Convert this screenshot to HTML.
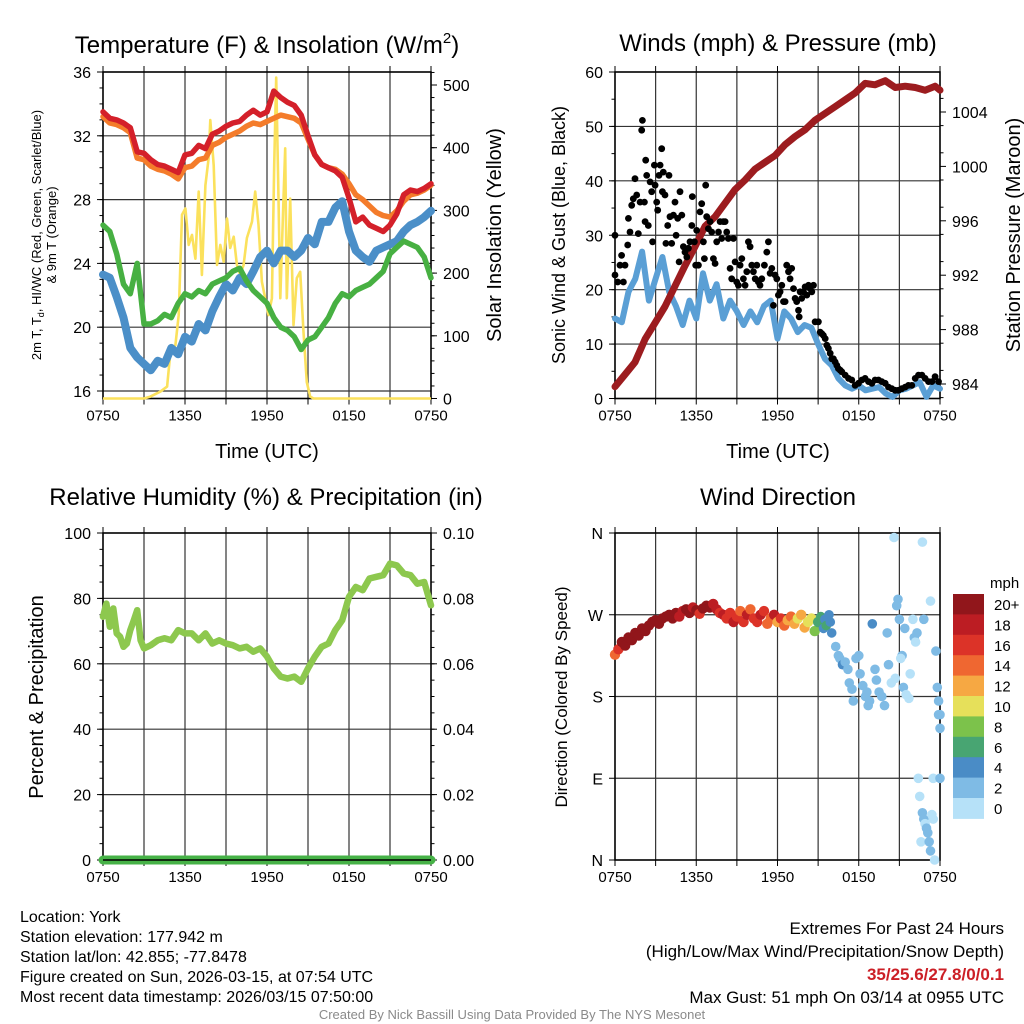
<!DOCTYPE html>
<html><head><meta charset="utf-8"><title>York Mesonet Meteogram</title>
<style>
html,body{margin:0;padding:0;background:#fff;}
svg{display:block;font-family:"Liberation Sans",Arial,sans-serif;}
</style></head>
<body>
<svg id="fig" width="1024" height="1024" viewBox="0 0 1024 1024" xmlns="http://www.w3.org/2000/svg">
<rect x="0" y="0" width="1024" height="1024" fill="#fff"/>
<text x="267" y="53" font-size="24" text-anchor="middle">Temperature (F) &amp; Insolation (W/m<tspan font-size="15" dy="-10">2</tspan><tspan dy="10">)</tspan></text>
<text x="778" y="51" font-size="24" text-anchor="middle">Winds (mph) &amp; Pressure (mb)</text>
<text x="266" y="505" font-size="24" text-anchor="middle">Relative Humidity (%) &amp; Precipitation (in)</text>
<text x="778" y="505" font-size="24" text-anchor="middle">Wind Direction</text>
<text transform="translate(41,235) rotate(-90)" font-size="13" text-anchor="middle">2m T, T<tspan font-size="9" dy="3">d</tspan><tspan dy="-3">, HI/WC (Red, Green, Scarlet/Blue)</tspan></text>
<text transform="translate(56,235) rotate(-90)" font-size="13" text-anchor="middle">&amp; 9m T (Orange)</text>
<text transform="translate(501,235) rotate(-90)" font-size="20" text-anchor="middle">Solar Insolation (Yellow)</text>
<text x="267" y="458" font-size="20" text-anchor="middle">Time (UTC)</text>
<text transform="translate(565,235) rotate(-90)" font-size="18" text-anchor="middle">Sonic Wind &amp; Gust (Blue, Black)</text>
<text transform="translate(1020,235) rotate(-90)" font-size="20" text-anchor="middle">Station Pressure (Maroon)</text>
<text x="778" y="458" font-size="20" text-anchor="middle">Time (UTC)</text>
<text transform="translate(43,697) rotate(-90)" font-size="20" text-anchor="middle">Percent &amp; Precipitation</text>
<text transform="translate(567,697) rotate(-90)" font-size="17" text-anchor="middle">Direction (Colored By Speed)</text>
<g font-size="16">
<text x="20" y="922">Location: York</text>
<text x="20" y="942">Station elevation: 177.942 m</text>
<text x="20" y="962">Station lat/lon: 42.855; -77.8478</text>
<text x="20" y="982">Figure created on Sun, 2026-03-15, at 07:54 UTC</text>
<text x="20" y="1002">Most recent data timestamp: 2026/03/15 07:50:00</text>
</g>
<g font-size="17" text-anchor="end">
<text x="1004" y="934">Extremes For Past 24 Hours</text>
<text x="1004" y="957">(High/Low/Max Wind/Precipitation/Snow Depth)</text>
<text x="1004" y="980" fill="#cc1f26" font-weight="bold">35/25.6/27.8/0/0.1</text>
<text x="1004" y="1003">Max Gust: 51 mph On 03/14 at 0955 UTC</text>
</g>
<text x="512" y="1019" font-size="13" fill="#8a8a8a" text-anchor="middle">Created By Nick Bassill Using Data Provided By The NYS Mesonet</text>
<g id="layer"></g>
</svg>
<script>
var xTickHours = [0, 6, 12, 18, 24];
var xTickLabels = ["0750", "1350", "1950", "0150", "0750"];
var tempTicks = [16, 20, 24, 28, 32, 36];
var solarTicks = [0, 100, 200, 300, 400, 500];
var windTicks = [0, 10, 20, 30, 40, 50, 60];
var presTicks = [984, 988, 992, 996, 1000, 1004];
var rhTicks = [0, 20, 40, 60, 80, 100];
var precipTickLabels = ["0.00", "0.02", "0.04", "0.06", "0.08", "0.10"];
var precipTicks = [0, 0.02, 0.04, 0.06, 0.08, 0.10];
var dirTicks = [0, 90, 180, 270, 360];
var dirTickLabels = ["N", "E", "S", "W", "N"];
var speedBinLabels = ["0", "2", "4", "6", "8", "10", "12", "14", "16", "18", "20+"];
var speedBinColors = ["#b6e1f8", "#7fbbe5", "#4a8cc6", "#48a572", "#7cc24b", "#e6e05a", "#f6a843", "#ef6731", "#dc3328", "#bc1d23", "#91161b"];

var tempT = [33.5,33.1,33.0,32.8,32.5,31.0,30.9,30.5,30.2,30.1,29.9,29.7,30.8,30.9,31.4,31.2,32.1,32.3,32.6,32.8,32.9,33.3,33.6,33.3,33.5,34.8,34.4,34.1,33.9,33.3,32.0,30.8,30.2,30.0,29.8,29.4,28.1,26.6,26.9,26.4,26.2,26.0,26.4,27.1,28.3,28.6,28.5,28.7,29.0];
var temp9m = [33.2,32.8,32.7,32.5,32.2,30.6,30.5,30.1,29.9,29.8,29.6,29.3,30.0,30.1,30.5,30.6,31.4,31.6,31.9,32.1,32.3,32.6,32.8,32.7,32.9,33.1,33.3,33.2,33.1,32.8,31.8,30.8,30.2,30.0,29.9,29.6,29.0,28.3,28.0,27.6,27.2,27.0,26.9,27.3,27.9,28.3,28.4,28.6,28.9];
var dewT = [23.3,23.1,21.9,20.6,18.7,18.1,17.7,17.3,17.9,17.7,18.7,18.3,19.4,19.1,20.2,19.8,21.0,21.9,22.7,22.3,23.1,22.7,23.5,24.4,24.8,24.0,24.8,24.8,24.4,24.8,25.6,25.2,26.6,26.6,27.5,27.9,26.0,24.8,24.4,24.1,24.8,25.0,25.2,25.4,26.0,26.4,26.6,26.9,27.3];
var heatWC = [26.4,26.0,24.6,22.7,22.1,24.0,20.2,20.2,20.4,20.8,20.6,21.5,22.1,21.9,22.3,22.1,22.7,22.9,23.1,23.5,23.7,22.9,22.3,21.9,21.5,20.6,20.0,19.8,19.4,18.6,19.2,19.4,20.0,20.6,21.5,22.1,21.9,22.3,22.5,22.7,23.1,23.5,24.6,25.0,25.4,25.2,25.0,24.4,23.1];

var solarHours = [0,3.0,3.47,4.2,4.69,4.93,5.3,5.54,5.78,6.03,6.27,6.51,6.76,7.0,7.24,7.49,7.73,7.85,8.1,8.34,8.58,8.83,9.07,9.31,9.56,9.8,10.04,10.29,10.53,10.9,11.14,11.38,11.63,11.87,12.11,12.36,12.53,12.67,12.84,12.97,13.21,13.33,13.45,13.7,13.94,14.18,14.43,14.67,14.91,15.16,15.4,24];
var solar = [0,0,3,11,19,74,85,133,293,303,245,261,223,330,197,340,383,444,372,213,245,218,287,240,258,213,197,213,256,282,330,277,186,160,133,160,372,512,319,160,319,399,160,319,117,192,202,106,26,3,0,0];

var windSpd = [14.7,14,19.6,22,27,18,22,26,19.6,17,13.5,18,14.7,23,18,21,14.7,18,16,13.5,16,14,17,18,11,16,14.7,12.2,13.5,13,10,7.3,6.1,3.7,2.4,1.8,2.4,1.5,1.8,2.1,0.9,0.3,1.5,1.8,2.4,3,0.3,2.4,1.8];

var gustHours = [0,0,0.2,0.37,0.49,0.62,0.74,0.94,0.99,1.11,1.23,1.35,1.48,1.6,1.72,1.85,1.97,2.02,2.17,2.22,2.27,2.34,2.46,2.59,2.71,2.78,2.91,2.96,3.08,3.15,3.25,3.33,3.45,3.5,3.57,3.69,3.76,3.89,3.99,4.06,4.19,4.31,4.43,4.51,4.63,4.73,4.8,4.93,5.05,5.17,5.3,5.42,5.54,5.67,5.71,5.86,5.96,6.03,6.16,6.28,6.4,6.53,6.6,6.7,6.77,6.9,7.02,7.14,7.27,7.39,7.51,7.64,7.76,7.88,8.0,8.13,8.25,8.37,8.5,8.62,8.74,8.87,8.99,9.11,9.24,9.36,9.48,9.61,9.73,9.85,9.98,10.1,10.22,10.35,10.47,10.59,10.71,10.84,11.03,11.21,11.33,11.45,11.58,11.7,11.82,11.95,12.07,12.19,12.32,12.44,12.56,12.68,12.81,12.93,13.05,13.18,13.3,13.42,13.55,13.6,13.67,13.79,13.92,14.04,14.16,14.29,14.41,14.53,14.66,14.78,15.02,15.15,15.27,15.39,15.52,15.64,15.76,15.89,16.01,16.13,16.26,16.38,16.5,16.63,16.75,17.0,17.24,17.49,17.73,17.98,18.23,18.47,18.72,18.97,19.21,19.46,19.7,19.95,20.2,20.44,20.69,20.93,21.18,21.43,21.67,21.92,22.17,22.41,22.66,22.9,23.15,23.4,23.64,23.89];
var gustVals = [30.0,22.7,21.4,24.5,26.3,21.4,24.5,28.2,33.1,30.6,35.5,36.7,40.4,37.4,30.3,36.1,49.3,51.1,36.1,32.5,43.8,41.0,31.8,39.8,38.0,28.8,42.9,39.2,36.1,34.6,41.0,42.9,45.9,38.0,41.6,37.4,28.5,31.8,41.0,33.4,28.5,33.7,36.1,30.0,33.1,25.1,38.0,33.7,27.9,26.9,26.0,27.6,28.8,31.8,37.1,28.8,24.5,30.9,24.5,34.3,35.8,28.8,25.7,39.2,33.4,31.2,32.5,30.6,25.7,24.8,28.8,30.6,32.5,29.4,32.5,32.5,30.6,29.4,23.9,22.0,29.4,25.1,21.4,20.8,24.5,25.7,22.0,20.8,23.3,28.8,27.9,24.5,23.3,22.0,24.5,21.4,20.8,22.0,24.5,26.9,28.8,23.0,23.9,17.1,22.7,22.0,19.0,19.6,20.8,17.8,17.8,24.5,23.3,22.0,23.9,20.2,18.4,17.8,16.2,15.0,19.6,18.4,19.6,20.5,19.0,20.8,20.2,19.6,20.8,14.1,14.1,12.2,11.9,11.6,11.0,9.8,9.2,8.3,7.3,7.3,6.7,6.1,5.5,5.2,4.9,4.3,3.7,3.4,2.4,2.8,3.4,3.7,3.1,2.8,3.4,3.4,3.1,2.8,2.1,1.8,1.5,1.5,1.8,2.1,2.4,2.4,3.7,4.3,4.3,3.7,3.1,3.1,4.0,3.1];

var presHours = [0,0.74,1.48,2.22,2.96,3.69,4.43,5.17,5.91,6.65,7.39,8.13,8.87,9.61,10.34,11.08,11.82,12.56,13.3,14.04,14.78,15.52,16.26,17.0,17.73,18.47,19.21,19.95,20.69,21.43,22.17,22.9,23.64,24];
var pres = [983.8,984.7,985.6,987.3,988.5,989.7,991.2,992.7,994.1,995.6,996.3,997.3,998.3,999.0,999.8,1000.3,1000.8,1001.6,1002.2,1002.7,1003.4,1003.9,1004.4,1004.9,1005.4,1006.1,1006.0,1006.3,1005.8,1005.9,1005.8,1005.6,1005.9,1005.6];

var rhHours = [0,0.25,0.5,0.75,1,1.25,1.5,1.75,2,2.25,2.5,2.75,3,3.5,4,4.5,5,5.5,6,6.5,7,7.5,8,8.5,9,9.5,10,10.5,11,11.5,12,12.5,13,13.5,14,14.5,15,15.5,16,16.5,17,17.5,18,18.5,19,19.5,20,20.5,21,21.5,22,22.5,23,23.5,24];
var rh = [74.4,78.4,71.3,76.9,69.3,68.3,65.2,66.2,70.3,73.3,76.4,67.2,64.7,65.7,67.2,67.8,67.2,70.3,69.3,69.3,67.2,69.3,66.2,67.2,66.2,65.7,64.7,65.2,63.7,64.7,62.2,58.6,56.1,55.5,56.1,54.5,58.6,62.2,65.2,66.2,70.3,73.3,80.5,83.5,82.5,86.1,86.6,87.1,90.6,90.1,87.6,87.1,84.5,85.0,77.9];
var precipHours = [0, 24];
var precip = [0, 0];

var dirDegA = [226,232,240,236,245,242,250,247,255,252,258,262,264,260,266,268,270,266,272,268,274,276,272,278,275,271,277,280,278,282,276,272,270,266,272,262,268,274,262,270,276,266,262,270,274,260,266,270,262,266,258,264,268,260,266,270,256,262,266,252,262];
var dirSpdA = [14,16,20,22,21,20,24,22,26,20,22,20,21,24,22,20,21,22,20,18,19,20,22,18,20,17,22,21,20,19,18,16,18,17,16,19,17,15,16,18,14,16,17,18,16,14,15,18,13,16,15,13,14,12,11,13,12,11,10,8,7];
var dirHoursB = [15.2,15.3,15.4,15.5,15.6,15.8,15.9,16.0,16.3,16.5,16.6,16.8,17.0,17.2,17.3,17.5,17.6,17.8,18.0,18.1,18.3,18.5,18.6,18.7,18.8,19.0,19.2,19.3,19.5,19.7,19.9,20.1,20.2,20.4,20.6,20.8,20.9,21.0,21.2,21.3,21.5,21.7,21.8,22.0,22.1,22.2,22.4,22.5,22.6,22.7,22.8,22.9,23.0,23.1,23.2,23.3,23.4,23.5,23.5,23.6,22.7,23.3,23.7,23.8,23.9,24.0,24.0,23.9,24.0,22.3,21.4,21.1,20.7,22.8];
var dirDegB = [268,262,255,265,258,270,262,250,235,225,222,215,218,210,195,188,175,222,225,205,192,180,185,170,175,260,210,198,185,180,170,250,215,195,355,280,287,265,225,190,182,178,205,265,245,240,90,70,20,52,45,40,35,30,20,10,50,90,45,0,350,285,230,190,160,145,90,175,160,250,255,222,200,265];
var dirSpdB = [7,6,5,4,6,4,4,4,3,3,3,4,3,3,2,3,2,3,2,3,2,3,2,2,2,4,2,2,3,2,2,2,2,1,0,2,2,2,2,2,1,1,1,1,2,1,1,0,0,2,2,1,2,2,2,2,0,1,1,0,0,0,2,2,2,2,3,2,2,2,2,0,0,2];

function lin(d0, d1, r0, r1) { return function (v) { return r0 + (v - d0) * (r1 - r0) / (d1 - d0); }; }
var X1 = lin(0, 24, 103, 431), X2 = lin(0, 24, 615, 940);
var Yt = lin(16, 36, 391, 72), Ys = lin(0, 500, 398.5, 85);
var Yw = lin(0, 60, 398.5, 72), Yp = lin(984, 1004, 384, 112);
var Yr = lin(0, 100, 860, 533), Yq = lin(0, 0.1, 860, 533);
var Yd = lin(0, 360, 860, 533);

var NS = "http://www.w3.org/2000/svg";
var layer = document.getElementById("layer");
function mk(tag, attrs, parent) {
  var e = document.createElementNS(NS, tag);
  for (var k in attrs) e.setAttribute(k, attrs[k]);
  (parent || layer).appendChild(e);
  return e;
}
function group(name) {
  var g = mk("g", {});
  
  
  return g;
}
function pathD(xs, ys, X, Y) {
  var d = "";
  for (var i = 0; i < xs.length; i++) d += (i ? "L" : "M") + X(xs[i]).toFixed(1) + "," + Y(ys[i]).toFixed(1);
  return d;
}
function halfHours(n) { var h = []; for (var i = 0; i < n; i++) h.push(i * 0.5); return h; }

function drawPanel(p) {
  var g = group(p.name + "-axes");
  var xl = p.x0, xr = p.x1, yt = p.y0, yb = p.y1;
  for (var h = 3; h < 24; h += 3) {
    var l = mk("line", {x1: p.X(h), x2: p.X(h), y1: yt, y2: yb, stroke: "#333", "stroke-width": 1.2}, g);
    
    
  }
  p.yTicks.forEach(function (v) {
    var y = p.Y(v);
    if (y > yt + 1 && y < yb - 1) {
      var l = mk("line", {x1: xl, x2: xr, y1: y, y2: y, stroke: "#333", "stroke-width": 1.2}, g);
      
      
    }
    var t = mk("line", {x1: xl - 6, x2: xl, y1: y, y2: y, stroke: "#000", "stroke-width": 1}, g);
    
    
  });
  p.yLabels.forEach(function (lab, i) {
    var t = mk("text", {x: xl - 12, y: p.Y(p.yTicks[i]) + 6, "font-size": 16, "text-anchor": "end"}, g);
    t.textContent = lab;
    
    
  });
  if (p.Y2) {
    p.y2Ticks.forEach(function (v, i) {
      var y = p.Y2(v);
      var t = mk("line", {x1: xr, x2: xr + 6, y1: y, y2: y, stroke: "#000", "stroke-width": 1}, g);
      
      
      var s = mk("text", {x: xr + 12, y: y + 6, "font-size": 16}, g);
      s.textContent = p.y2Labels[i];
      
      
    });
    p.y2Minor.forEach(function (v) {
      var y = p.Y2(v);
      if (y < yt || y > yb) return;
      var t = mk("line", {x1: xr, x2: xr + 3.5, y1: y, y2: y, stroke: "#000", "stroke-width": 1}, g);
      
      
    });
  }
  p.yMinor.forEach(function (v) {
    var y = p.Y(v);
    if (y < yt || y > yb) return;
    var t = mk("line", {x1: xl - 3.5, x2: xl, y1: y, y2: y, stroke: "#000", "stroke-width": 1}, g);
    
    
  });
  for (var hh = 0; hh <= 24; hh += 3) {
    var x = p.X(hh);
    var tb = mk("line", {x1: x, x2: x, y1: yb, y2: yb + 6, stroke: "#000", "stroke-width": 1}, g);
    
    
    var tt = mk("line", {x1: x, x2: x, y1: yt - 6, y2: yt, stroke: "#000", "stroke-width": 1}, g);
    
    
  }
  xTickHours.forEach(function (h, i) {
    var t = mk("text", {x: p.X(h), y: yb + 22, "font-size": 15, "text-anchor": "middle"}, g);
    t.textContent = xTickLabels[i];
    
    
  });
  var fr = mk("rect", {x: xl, y: yt, width: xr - xl, height: yb - yt, fill: "none", stroke: "#000", "stroke-width": 1.6}, g);
  
  
}
function range(a, b, s) { var r = []; for (var v = a; v <= b + 1e-9; v += s) r.push(+v.toFixed(4)); return r; }

drawPanel({name: "temperature-panel", X: X1, Y: Yt, x0: 103, x1: 431, y0: 72, y1: 398.5,
  yTicks: tempTicks, yLabels: tempTicks.map(String), yMinor: range(16, 36, 1),
  Y2: Ys, y2Ticks: solarTicks, y2Labels: solarTicks.map(String), y2Minor: range(0, 520, 20)});
drawPanel({name: "winds-panel", X: X2, Y: Yw, x0: 615, x1: 940, y0: 72, y1: 398.5,
  yTicks: windTicks, yLabels: windTicks.map(String), yMinor: range(0, 60, 5),
  Y2: Yp, y2Ticks: presTicks, y2Labels: presTicks.map(String), y2Minor: range(983, 1006, 2)});
drawPanel({name: "humidity-panel", X: X1, Y: Yr, x0: 103, x1: 431, y0: 533, y1: 860,
  yTicks: rhTicks, yLabels: rhTicks.map(String), yMinor: range(0, 100, 5),
  Y2: Yq, y2Ticks: precipTicks, y2Labels: precipTickLabels, y2Minor: range(0, 0.1, 0.005)});
drawPanel({name: "direction-panel", X: X2, Y: Yd, x0: 615, x1: 940, y0: 533, y1: 860,
  yTicks: dirTicks, yLabels: dirTickLabels, yMinor: []});

var hh49 = halfHours(49);
var gT = group("temperature-series");
var sol = mk("path", {d: pathD(solarHours, solar, X1, Ys), fill: "none", stroke: "#fbe15c", "stroke-width": 2.6, "stroke-linejoin": "round"}, gT);


var dw = mk("path", {d: pathD(hh49, dewT, X1, Yt), fill: "none", stroke: "#4b8fc8", "stroke-width": 8, "stroke-linejoin": "round", "stroke-linecap": "round"}, gT);


var hw = mk("path", {d: pathD(hh49, heatWC, X1, Yt), fill: "none", stroke: "#47b042", "stroke-width": 5.5, "stroke-linejoin": "round", "stroke-linecap": "round"}, gT);


var o9 = mk("path", {d: pathD(hh49, temp9m, X1, Yt), fill: "none", stroke: "#f47c2b", "stroke-width": 5.5, "stroke-linejoin": "round", "stroke-linecap": "round"}, gT);


var r2 = mk("path", {d: pathD(hh49, tempT, X1, Yt), fill: "none", stroke: "#d4202a", "stroke-width": 5.5, "stroke-linejoin": "round", "stroke-linecap": "round"}, gT);



var gW = group("winds-series");
var ws = mk("path", {d: pathD(hh49, windSpd, X2, Yw), fill: "none", stroke: "#5a9fd5", "stroke-width": 6, "stroke-linejoin": "round", "stroke-linecap": "round"}, gW);


var pr = mk("path", {d: pathD(presHours, pres, X2, Yp), fill: "none", stroke: "#9c1c1f", "stroke-width": 7, "stroke-linejoin": "round", "stroke-linecap": "round"}, gW);


for (var i = 0; i < gustHours.length; i++) {
  var c = mk("circle", {cx: X2(gustHours[i]).toFixed(1), cy: Yw(gustVals[i]).toFixed(1), r: 3.4, fill: "#000"}, gW);
  
  
}

var gH = group("humidity-series");
var pc = mk("path", {d: pathD(precipHours, precip, X1, Yq), fill: "none", stroke: "#46b247", "stroke-width": 9, "stroke-linecap": "round"}, gH);


var zl = mk("line", {x1: 103, x2: 431, y1: 860, y2: 860, stroke: "#000", "stroke-width": 1.4}, gH);


var rl = mk("path", {d: pathD(rhHours, rh, X1, Yr), fill: "none", stroke: "#8dc84e", "stroke-width": 6.5, "stroke-linejoin": "round", "stroke-linecap": "round"}, gH);



var gD = group("direction-series");
function binColor(s) { var b = Math.floor(s / 2); if (b > 10) b = 10; if (b < 0) b = 0; return speedBinColors[b]; }
for (var a = 0; a < dirDegA.length; a++) {
  var d1 = mk("circle", {cx: X2(a * 0.25).toFixed(1), cy: Yd(dirDegA[a]).toFixed(1), r: 5.2, fill: binColor(dirSpdA[a])}, gD);
  
  
}
for (var b = 0; b < dirHoursB.length; b++) {
  var d2 = mk("circle", {cx: X2(dirHoursB[b]).toFixed(1), cy: Yd(dirDegB[b]).toFixed(1), r: 4.8, fill: binColor(dirSpdB[b])}, gD);
  
  
}

var gC = group("speed-colorbar");
var cbTop = 594, cbH = 20.4;
var mph = mk("text", {x: 990, y: 588, "font-size": 15}, gC);
mph.textContent = "mph";


for (var k = 0; k < speedBinColors.length; k++) {
  var idx = speedBinColors.length - 1 - k;
  var r = mk("rect", {x: 953, y: (cbTop + k * cbH).toFixed(1), width: 31, height: (cbH + 0.5).toFixed(1), fill: speedBinColors[idx]}, gC);
  
  
  var tl = mk("text", {x: 994, y: (cbTop + k * cbH + 16).toFixed(1), "font-size": 15}, gC);
  tl.textContent = speedBinLabels[idx];
  
  
}
</script>
</body></html>
